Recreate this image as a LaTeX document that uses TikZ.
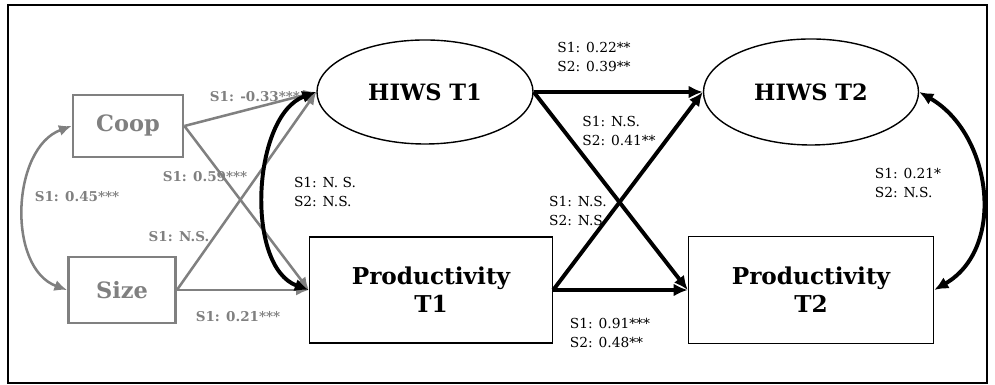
\documentclass[tikz,border=0pt]{standalone}
\usepackage{fontspec}
\setmainfont{DejaVu Serif}
\usetikzlibrary{shapes.geometric,arrows.meta}
\definecolor{pathgray}{RGB}{128,128,128}
\tikzset{
  ctrlbox/.style={draw=pathgray, line width=2pt, text=pathgray, inner sep=0pt, font=\bfseries\fontsize{16}{19}\selectfont},
  latbox/.style={draw, line width=1pt, ellipse, inner sep=0pt, font=\bfseries\fontsize{16}{19}\selectfont},
  obsbox/.style={draw, line width=1pt, inner sep=0pt, align=center, font=\bfseries\fontsize{16.5}{20}\selectfont},
  grayarrow/.style={draw=pathgray, line width=1.8pt, -{Latex[length=9pt,width=8pt]}},
  blackarrow/.style={line width=2.8pt, -{Latex[length=10pt,width=9pt]}},
  graylab/.style={text=pathgray, font=\bfseries\fontsize{9.6}{12}\selectfont},
  blacklab/.style={align=left, font=\fontsize{9.8}{14}\selectfont}
}
\begin{document}
\begin{tikzpicture}[x=0.025cm,y=0.025cm]
\useasboundingbox (0,0) rectangle (995,385);
\draw [line width=0.8pt] (8,2) rectangle (987,380);

% control variables
\node [ctrlbox, minimum width=2.75cm, minimum height=1.55cm] (coop) at (128,259) {Coop};
\node [ctrlbox, minimum width=2.675cm, minimum height=1.65cm] (size) at (122,95) {Size};

% time 1 and time 2
\node [latbox, minimum width=5.4cm, minimum height=2.6cm] (hiws1) at (425,293) {HIWS T1};
\node [latbox, minimum width=5.375cm, minimum height=2.65cm] (hiws2) at (811,293) {HIWS T2};
\node [obsbox, minimum width=6.075cm, minimum height=2.65cm] (prod1) at (431,95) {Productivity\\T1};
\node [obsbox, minimum width=6.125cm, minimum height=2.675cm] (prod2) at (811,95) {Productivity\\T2};

% gray paths
\draw [grayarrow] (coop.east) -- (hiws1.west);
\draw [grayarrow] (coop.east) -- (prod1.west);
\draw [grayarrow] (size.east) -- (hiws1.west);
\draw [grayarrow] (size.east) -- (prod1.west);
\draw [draw=pathgray, line width=1.8pt, {Latex[length=9pt,width=8pt]}-{Latex[length=9pt,width=8pt]}] (coop.west) to[out=200,in=160,looseness=1] (size.west);

% black paths
\draw [line width=2.8pt, {Latex[length=10pt,width=9pt]}-{Latex[length=10pt,width=9pt]}] (hiws1.west) to[out=200,in=160,looseness=0.88] (prod1.west);
\draw [blackarrow] (hiws1.east) -- (hiws2.west);
\draw [blackarrow] (hiws1.east) -- (prod2.west);
\draw [blackarrow] (prod1.east) -- (hiws2.west);
\draw [blackarrow] (prod1.east) -- (prod2.west);
\draw [line width=2.8pt, {Latex[length=10pt,width=9pt]}-{Latex[length=10pt,width=9pt]}] (hiws2.east) to[out=-30,in=30,looseness=1.08] (prod2.east);

% labels
\node [graylab] (l1) at (255,288) {S1: -0.33***};
\node [graylab] (l2) at (205,208) {S1: 0.59***};
\node [graylab] (l3) at (77,188) {S1: 0.45***};
\node [graylab] (l4) at (179,148) {S1: N.S.};
\node [graylab] (l5) at (238,68) {S1: 0.21***};
\node [blacklab] (l6) at (325,193) {S1: N. S.\\S2: N.S.};
\node [blacklab] (l7) at (594,328) {S1: 0.22**\\S2: 0.39**};
\node [blacklab] (l8) at (619,254) {S1: N.S.\\S2: 0.41**};
\node [blacklab] (l9) at (578,174) {S1: N.S.\\S2: N.S};
\node [blacklab] (l10) at (610,52) {S1: 0.91***\\S2: 0.48**};
\node [blacklab] (l11) at (908,202) {S1: 0.21*\\S2: N.S.};

\end{tikzpicture}
\end{document}
